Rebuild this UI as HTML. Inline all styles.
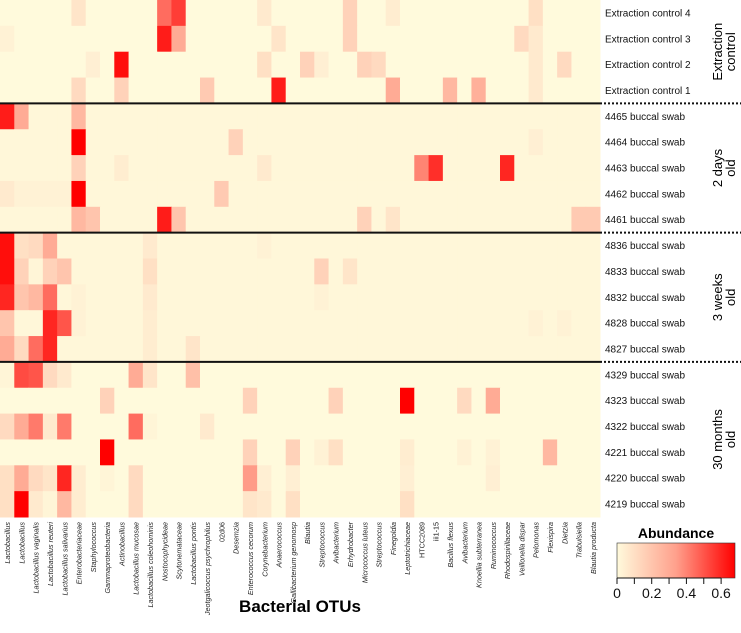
<!DOCTYPE html>
<html><head><meta charset="utf-8"><style>
html,body{margin:0;padding:0;background:#fff;}
svg{display:block;font-family:"Liberation Sans",sans-serif;}
</style></head><body>
<svg id="chart" width="741" height="633" viewBox="0 0 741 633" xmlns="http://www.w3.org/2000/svg">
<defs><linearGradient id="cbg" x1="0" x2="1" y1="0" y2="0">
<stop offset="0" stop-color="#FFFADC"/><stop offset="0.5" stop-color="#FFA08C"/><stop offset="1" stop-color="#FF0000"/>
</linearGradient></defs>
<g id="cells"></g>
<g id="sep"></g>
<g id="xlabels"></g>
<g id="ylabels"></g>
<g id="groups"></g>
<text x="300" y="612" text-anchor="middle" font-size="17" font-weight="bold">Bacterial OTUs</text>
<g>
<text x="676" y="538" text-anchor="middle" font-size="14" font-weight="bold">Abundance</text>
<rect x="617" y="543" width="118" height="35" fill="url(#cbg)" stroke="#333" stroke-width="0.6"/>
<g id="cbticks"></g>
</g>
</svg>
<script>
const columns = ["Lactobacillus","Lactobacillus","Lactobacillus vaginalis","Lactobacillus reuteri","Lactobacillus salivarius","Enterobacteriaceae","Staphylococcus","Gammaproteobacteria","Actinobacillus","Lactobacillus mucosae","Lactobacillus coleohominis","Nostocophycideae","Scytonemataceae","Lactobacillus pontis","Jeotgalicoccus psychrophilus","02d06","Desemzia","Enterococcus cecorum","Corynebacterium","Anaerococcus","Gallibacterium genomosp","Blautia","Streptococcus","Avibacterium","Erhydrobacter","Micrococcus luteus","Streptococcus","Finegoldia","Leptotrichiaceae","HTCC2089","iii1-15","Bacillus flexus","Avibacterium","Knoellia subterranea","Ruminococcus","Rhodospirillaceae","Veillonella dispar","Pelomonas","Flexispira","Dietzia","Trabulsiella","Blautia producta"];
const rows = ["Extraction control 4","Extraction control 3","Extraction control 2","Extraction control 1","4465 buccal swab","4464 buccal swab","4463 buccal swab","4462 buccal swab","4461 buccal swab","4836 buccal swab","4833 buccal swab","4832 buccal swab","4828 buccal swab","4827 buccal swab","4329 buccal swab","4323 buccal swab","4322 buccal swab","4221 buccal swab","4220 buccal swab","4219 buccal swab"];
const groupNames = [["Extraction","control"],["2 days","old"],["3 weeks","old"],["30 months","old"]];
const groupSizes = [4,5,5,6];
const ticks = [0,0.1,0.2,0.3,0.4,0.5,0.6];
const tickLabels = ["0","0.2","0.4","0.6"];
// sparse values per row: [colIndex, abundance]
const values = [
 [[5,0.08],[11,0.45],[12,0.55],[18,0.06],[24,0.15],[27,0.05],[37,0.1]],
 [[0,0.03],[11,0.62],[12,0.3],[19,0.08],[24,0.15],[36,0.12],[37,0.06]],
 [[6,0.04],[8,0.65],[18,0.1],[21,0.15],[22,0.04],[25,0.15],[26,0.12],[37,0.06],[39,0.12]],
 [[5,0.12],[8,0.15],[14,0.18],[19,0.62],[27,0.3],[31,0.25],[33,0.28],[37,0.06]],
 [[0,0.62],[1,0.3],[5,0.25]],
 [[5,0.68],[16,0.15],[37,0.04]],
 [[5,0.15],[8,0.05],[18,0.06],[29,0.4],[30,0.58],[35,0.6]],
 [[0,0.06],[1,0.03],[2,0.03],[3,0.03],[4,0.03],[5,0.68],[15,0.18]],
 [[5,0.25],[6,0.2],[11,0.62],[12,0.2],[25,0.15],[27,0.08],[40,0.18],[41,0.18]],
 [[0,0.65],[1,0.1],[2,0.12],[3,0.3],[10,0.06],[18,0.03]],
 [[0,0.65],[1,0.15],[2,0.02],[3,0.15],[4,0.2],[10,0.1],[22,0.15],[24,0.08]],
 [[0,0.6],[1,0.2],[2,0.25],[3,0.45],[5,0.03],[10,0.06],[22,0.03]],
 [[0,0.2],[3,0.6],[4,0.5],[5,0.03],[10,0.05],[37,0.03],[39,0.03]],
 [[0,0.3],[1,0.12],[2,0.45],[3,0.6],[10,0.05],[13,0.08]],
 [[0,0.02],[1,0.52],[2,0.5],[3,0.12],[4,0.06],[9,0.3],[10,0.08],[13,0.22]],
 [[7,0.15],[17,0.15],[23,0.15],[28,0.68],[32,0.12],[34,0.3]],
 [[0,0.12],[1,0.3],[2,0.42],[3,0.06],[4,0.42],[9,0.45],[10,0.02],[14,0.06]],
 [[7,0.68],[17,0.15],[20,0.15],[22,0.03],[23,0.1],[28,0.05],[32,0.03],[34,0.03],[38,0.25]],
 [[0,0.1],[1,0.3],[2,0.12],[3,0.08],[4,0.6],[5,0.05],[7,0.02],[9,0.12],[17,0.35],[18,0.04],[20,0.04],[28,0.04],[34,0.04]],
 [[0,0.1],[1,0.68],[2,0.06],[3,0.02],[4,0.25],[5,0.05],[9,0.12],[17,0.08],[18,0.06],[20,0.1],[28,0.1]]
];
const NS="http://www.w3.org/2000/svg";
const W=600, H=517, VMAX=0.68;
const cw=W/columns.length, rh=H/rows.length;
const xPos=i=>i*cw, yPos=r=>r*rh;
function color(v){
  const t=Math.max(0,Math.min(1,v/VMAX));
  const a=[255,250,220], m=[255,160,140], b=[255,0,0];
  let c;
  if(t<0.5){const s=t/0.5;c=a.map((x,i)=>x+(m[i]-x)*s);} else {const s=(t-0.5)/0.5;c=m.map((x,i)=>x+(b[i]-x)*s);}
  return `rgb(${c.map(Math.round).join(',')})`;
}
function mk(tag,attrs,parent){const e=document.createElementNS(NS,tag);for(const k in attrs)e.setAttribute(k,attrs[k]);parent.appendChild(e);return e;}
const cells=document.getElementById('cells');
rows.forEach((rn,r)=>{
  const map={};values[r].forEach(([c,v])=>map[c]=v);
  const base=(r>=4&&r<=13)?0.012:0;
  columns.forEach((cn,c)=>{
    const v=map[c]!==undefined?map[c]:base;
    const e=mk('rect',{x:xPos(c),y:yPos(r),width:cw+0.5,height:rh+0.5,fill:color(v)},cells);
    
    
  });
});
const sep=document.getElementById('sep');
let acc=0;
groupSizes.forEach((g,gi)=>{
  const start=acc; acc+=g;
  const gg=document.getElementById('groups');
  const cy=(yPos(start)+yPos(acc))/2;
  groupNames[gi].forEach((ln,li)=>{
    const t=mk('text',{x:0,y:0,'font-size':13,'text-anchor':'middle',transform:`translate(${722+li*13},${cy}) rotate(-90)`},gg);
    t.textContent=ln;
    
    
  });
  if(gi<groupSizes.length-1){
    const y=yPos(acc);
    const l1=mk('line',{x1:0,x2:W,y1:y,y2:y,stroke:'#111','stroke-width':2},sep);
    
    
    const l2=mk('line',{x1:W,x2:741,y1:y,y2:y,stroke:'#111','stroke-width':2,'stroke-dasharray':'2,2'},sep);
    
    
  }
});
const yl=document.getElementById('ylabels');
rows.forEach((rn,r)=>{
  const t=mk('text',{x:605,y:yPos(r)+rh/2+3.5,'font-size':10,fill:'#111'},yl);
  t.textContent=rn;
  
  
});
const xl=document.getElementById('xlabels');
columns.forEach((cn,c)=>{
  const plain=(cn==="02d06"||cn==="HTCC2089"||cn==="iii1-15");
  const t=mk('text',{x:0,y:0,'font-size':7.2,fill:'#222','text-anchor':'end','font-style':plain?'normal':'italic',transform:`translate(${xPos(c)+cw/2+3},${522}) rotate(-90)`},xl);
  t.textContent=cn;
  
  
});
const cb=document.getElementById('cbticks');
const cbx=v=>617+v/VMAX*118;
ticks.forEach(v=>{
  const l=mk('line',{x1:cbx(v),x2:cbx(v),y1:578,y2:584,stroke:'#111','stroke-width':1},cb);
  
  
});
mk('line',{x1:cbx(0),x2:cbx(0.6),y1:578,y2:578,stroke:'#111','stroke-width':1},cb);
tickLabels.forEach(s=>{
  const t=mk('text',{x:cbx(parseFloat(s)),y:598,'font-size':14,'text-anchor':'middle',fill:'#111'},cb);
  t.textContent=s;
  
  
});
</script>
</body></html>
